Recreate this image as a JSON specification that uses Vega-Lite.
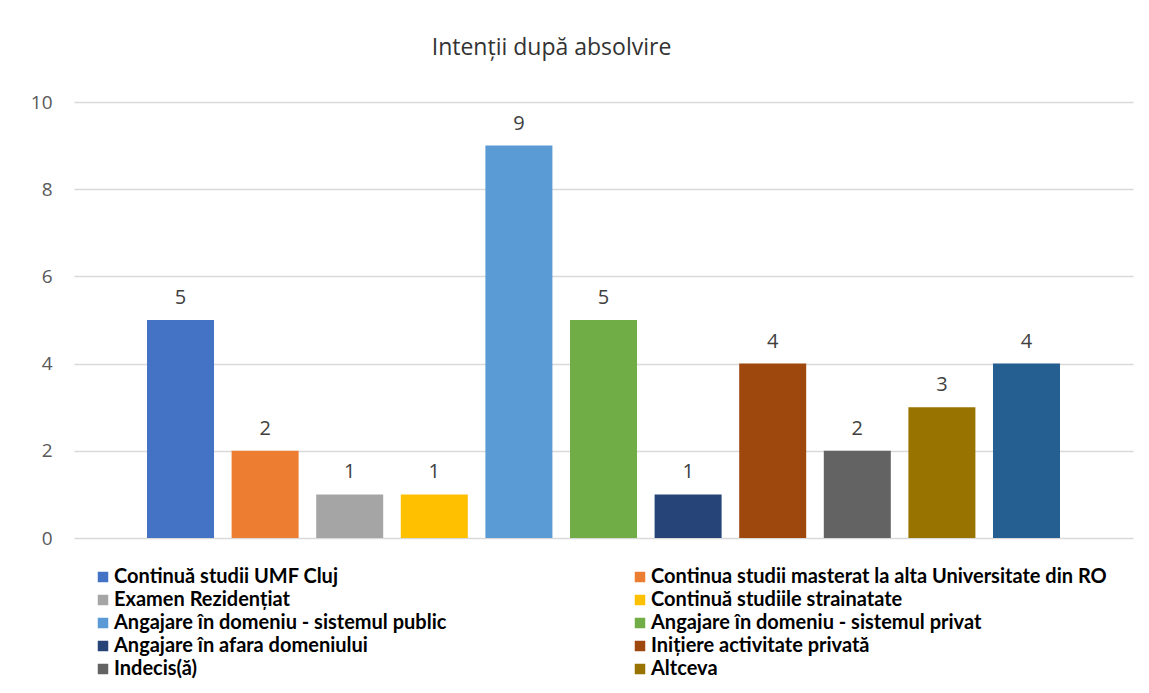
{
  "$schema": "https://vega.github.io/schema/vega-lite/v6.json",
  "width": 1059,
  "height": 436,
  "autosize": {"type": "none"},
  "padding": {"left": 74, "top": 102, "right": 16, "bottom": 155},
  "background": "white",
  "title": {
    "text": "Intenții după absolvire",
    "font": "Open Sans",
    "fontSize": 23,
    "fontWeight": "normal",
    "color": "#333333",
    "anchor": "middle",
    "frame": "group",
    "dx": -52,
    "offset": 33
  },
  "data": {
    "values": [
      {"categorie": "Continuă studii UMF Cluj", "n": 5},
      {"categorie": "Continua studii masterat la alta Universitate din RO", "n": 2},
      {"categorie": "Examen Rezidențiat", "n": 1},
      {"categorie": "Continuă studiile strainatate", "n": 1},
      {"categorie": "Angajare în domeniu - sistemul public", "n": 9},
      {"categorie": "Angajare în domeniu - sistemul privat", "n": 5},
      {"categorie": " Angajare în afara domeniului", "n": 1},
      {"categorie": "Inițiere activitate privată", "n": 4},
      {"categorie": "Indecis(ă)", "n": 2},
      {"categorie": "Altceva", "n": 3},
      {"categorie": "Alt răspuns", "n": 4}
    ]
  },
  "encoding": {
    "x": {
      "field": "categorie",
      "type": "nominal",
      "sort": null,
      "axis": null,
      "scale": {"paddingInner": 0.208, "paddingOuter": 0.863}
    },
    "y": {
      "field": "n",
      "type": "quantitative",
      "scale": {"domain": [0, 10], "nice": false},
      "axis": {
        "title": null,
        "values": [0, 2, 4, 6, 8, 10],
        "domain": false,
        "ticks": false,
        "grid": true,
        "gridColor": "#d9d9d9",
        "gridWidth": 1.3,
        "labelFont": "Open Sans",
        "labelFontSize": 19,
        "labelColor": "#595959",
        "labelPadding": 22
      }
    }
  },
  "layer": [
    {
      "mark": {"type": "bar"},
      "encoding": {
        "color": {
          "field": "categorie",
          "type": "nominal",
          "scale": {
            "domain": ["Continuă studii UMF Cluj", "Continua studii masterat la alta Universitate din RO", "Examen Rezidențiat", "Continuă studiile strainatate", "Angajare în domeniu - sistemul public", "Angajare în domeniu - sistemul privat", " Angajare în afara domeniului", "Inițiere activitate privată", "Indecis(ă)", "Altceva", "Alt răspuns"],
            "range": ["#4472C4", "#ED7D31", "#A5A5A5", "#FFC000", "#5B9BD5", "#70AD47", "#264478", "#9E480E", "#636363", "#997300", "#255E91"]
          },
          "legend": {
            "title": null,
            "orient": "none",
            "legendX": 19,
            "legendY": 465,
            "direction": "horizontal",
            "columns": 2,
            "columnPadding": 183,
            "rowPadding": 3,
            "values": ["Continuă studii UMF Cluj", "Continua studii masterat la alta Universitate din RO", "Examen Rezidențiat", "Continuă studiile strainatate", "Angajare în domeniu - sistemul public", "Angajare în domeniu - sistemul privat", " Angajare în afara domeniului", "Inițiere activitate privată", "Indecis(ă)", "Altceva"],
            "symbolType": "square",
            "symbolSize": 110,
            "symbolStrokeWidth": 0,
            "symbolOpacity": 1,
            "labelFont": "Lato",
            "labelFontSize": 20,
            "labelFontWeight": "bold",
            "labelColor": "#000000",
            "labelOffset": 1,
            "labelLimit": 700
          }
        }
      }
    },
    {
      "mark": {"type": "text", "baseline": "alphabetic", "dy": -16, "font": "Open Sans", "fontSize": 20, "color": "#404040"},
      "encoding": {"text": {"field": "n", "type": "quantitative"}}
    }
  ],
  "config": {"view": {"stroke": null}}
}
